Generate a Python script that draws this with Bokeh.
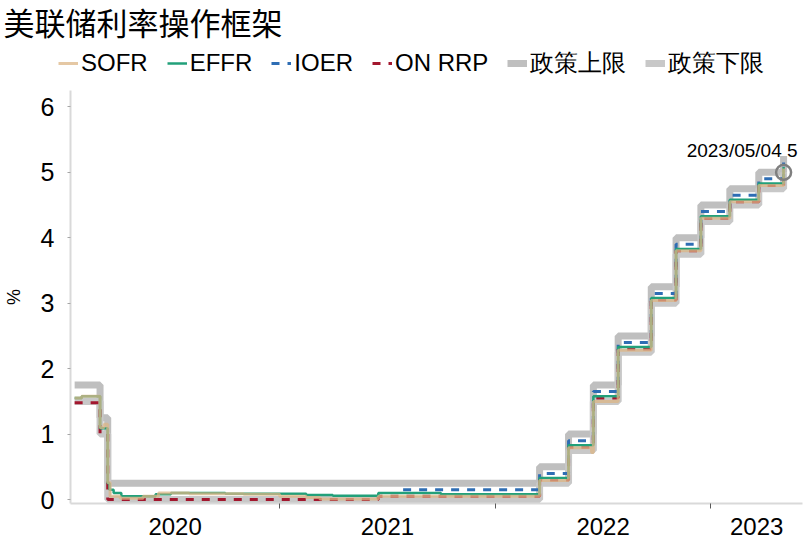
import pandas as pd
from bokeh.plotting import figure
from bokeh.layouts import column
from bokeh.models import Range1d, FixedTicker, Legend, LegendItem, Label
from bokeh.core.properties import value
from bokeh.embed import file_html
from bokeh.resources import INLINE

# ---------------- data ----------------
title_text = "美联储利率操作框架"
year_labels = ["2020", "2021", "2022", "2023"]
year_starts = ["2020-01-01", "2021-01-01", "2022-01-01", "2023-01-01", "2024-01-01"]
y_ticks = [0, 1, 2, 3, 4, 5, 6]

policy_dates = ["2020-01-20", "2020-03-03", "2020-03-16", "2022-03-17", "2022-05-05",
                "2022-06-16", "2022-07-28", "2022-09-22", "2022-11-03", "2022-12-15",
                "2023-02-02", "2023-03-23", "2023-05-04"]
policy_upper = [1.75, 1.25, 0.25, 0.50, 1.00, 1.75, 2.50, 3.25, 4.00, 4.50, 4.75, 5.00, 5.25]
policy_lower = [1.50, 1.00, 0.00, 0.25, 0.75, 1.50, 2.25, 3.00, 3.75, 4.25, 4.50, 4.75, 5.00]

ioer_dates = ["2021-07-29", "2022-03-17", "2022-05-05", "2022-06-16", "2022-07-28",
              "2022-09-22", "2022-11-03", "2022-12-15", "2023-02-02", "2023-03-23",
              "2023-05-04"]
ioer_values = [0.15, 0.40, 0.90, 1.65, 2.40, 3.15, 3.90, 4.40, 4.65, 4.90, 5.15]

onrrp_dates = ["2020-01-20", "2020-03-03", "2020-03-16", "2021-06-17", "2022-03-17",
               "2022-05-05", "2022-06-16", "2022-07-28", "2022-09-22", "2022-11-03",
               "2022-12-15", "2023-02-02", "2023-03-23", "2023-05-04"]
onrrp_values = [1.48, 1.00, 0.00, 0.05, 0.30, 0.80, 1.55, 2.30, 3.05, 3.80, 4.30, 4.55, 4.80, 5.05]

effr_dates = ["2020-01-20", "2020-02-01", "2020-03-03", "2020-03-16", "2020-03-19",
              "2020-03-26", "2020-04-08", "2020-06-05", "2020-07-01", "2020-10-01",
              "2021-02-15", "2021-04-01", "2021-06-17", "2021-10-01", "2022-03-17",
              "2022-05-05", "2022-06-16", "2022-07-28", "2022-09-22", "2022-11-03",
              "2022-12-15", "2023-02-02", "2023-03-23", "2023-05-04"]
effr_values = [1.55, 1.58, 1.09, 0.25, 0.15, 0.10, 0.05, 0.08, 0.10, 0.09,
               0.07, 0.06, 0.10, 0.08, 0.33,
               0.83, 1.58, 2.33, 3.08, 3.83,
               4.33, 4.58, 4.83, 5.08]

sofr_dates = ["2020-01-20", "2020-02-01", "2020-03-03", "2020-03-10", "2020-03-16",
              "2020-03-20", "2020-04-06", "2020-05-15", "2020-06-10", "2020-08-01",
              "2020-11-01", "2021-01-01", "2021-02-15", "2021-03-10", "2021-06-17",
              "2022-03-17", "2022-05-05", "2022-06-13", "2022-06-16", "2022-07-28",
              "2022-09-22", "2022-11-03", "2022-12-15", "2023-02-02", "2023-03-23",
              "2023-05-04"]
sofr_values = [1.55, 1.58, 1.10, 1.15, 0.26,
               0.05, 0.02, 0.05, 0.10, 0.09,
               0.08, 0.05, 0.03, 0.01, 0.05,
               0.29, 0.79, 0.72, 1.50, 2.28,
               3.04, 3.80, 4.30, 4.55, 4.80,
               5.06]

annot_date = "2023-05-04"
annot_value = 5.0
annot_label = "2023/05/04 5"

series_names = ["SOFR", "EFFR", "IOER", "ON RRP", "政策上限", "政策下限"]

# ---------------- styles ----------------
styles = {
    "SOFR": dict(line_color="#dcb585", line_width=3, line_alpha=0.75),
    "EFFR": dict(line_color="#22a07a", line_width=2.5),
    "IOER": dict(line_color="#2e6db4", line_width=3, line_dash="8 8"),
    "ON RRP": dict(line_color="#a3172e", line_width=3, line_dash="8 8"),
    "政策上限": dict(line_color="#bfbfbf", line_width=7),
    "政策下限": dict(line_color="#c8c8c8", line_width=7),
}

def ms(d):
    return int(pd.Timestamp(d).value // 10**6)

def ts(lst):
    return [ms(d) for d in lst]

W = 812
HEADER_H = 88
MAIN_H = 456

# ---------------- header: title + legend ----------------
hdr = figure(width=W, height=HEADER_H, x_range=Range1d(0, 1), y_range=Range1d(0, 1),
             x_axis_location=None, y_axis_location=None, title=None,
             output_backend="svg", toolbar_location=None,
             min_border=0, min_border_left=0, min_border_right=0,
             min_border_top=0, min_border_bottom=0)
hdr.frame_align = False
hdr.outline_line_color = None
hdr.xgrid.grid_line_color = None
hdr.ygrid.grid_line_color = None
hdr.background_fill_color = "white"
hdr.border_fill_color = "white"

hdr.add_layout(Label(x=3, y=HEADER_H - 21, x_units="screen", y_units="screen",
                     text=title_text, text_font="Noto Sans CJK SC", text_font_size="31px",
                     text_baseline="middle", text_align="left", text_color="#000000"))

nan = float("nan")
proxies = {name: hdr.line([nan], [nan], **styles[name]) for name in series_names}
legend = Legend(items=[LegendItem(label=n, renderers=[proxies[n]]) for n in series_names],
                orientation="horizontal", location=(58, 9),
                label_text_font="Liberation Sans", label_text_font_size="24px",
                label_text_color="#000000", glyph_width=20, glyph_height=24,
                label_height=24, label_standoff=3, spacing=19, padding=0, margin=0,
                border_line_color=None, background_fill_alpha=0)
hdr.add_layout(legend)

# ---------------- main chart ----------------
x_start = ms("2020-01-13")
x_end = ms("2023-06-05")

p = figure(width=W, height=MAIN_H,
           x_range=Range1d(start=x_start, end=x_end),
           y_range=Range1d(start=-0.06, end=6.25),
           output_backend="svg", toolbar_location=None, min_border=0,
           min_border_left=69, min_border_right=10, min_border_top=2, min_border_bottom=41)
p.frame_align = False
p.background_fill_color = "white"
p.border_fill_color = "white"
p.outline_line_color = None
p.xgrid.grid_line_color = None
p.ygrid.grid_line_color = None

up = p.step(ts(policy_dates), policy_upper, mode="after", **styles["政策上限"])
lo = p.step(ts(policy_dates), policy_lower, mode="after", **styles["政策下限"])
io = p.step(ts(ioer_dates), ioer_values, mode="after", **styles["IOER"])
rr = p.step(ts(onrrp_dates), onrrp_values, mode="after", **styles["ON RRP"])
ef = p.step(ts(effr_dates), effr_values, mode="after", **styles["EFFR"])
so = p.step(ts(sofr_dates), sofr_values, mode="after", **styles["SOFR"])

p.scatter(ts([annot_date]), [annot_value], marker="circle", size=15,
          fill_color=None, line_color="#7f7f7f", line_width=2.5)
p.text(ts([annot_date]), [annot_value], text=[annot_label],
       text_align="right", text_baseline="bottom", x_offset=14, y_offset=-11,
       text_font=value("Liberation Sans"), text_font_size="19px", text_color="#000000")

# x axis: labels centred in the visible part of each year, ticks at year boundaries
bounds = ts(year_starts)
mids = []
for i in range(len(year_labels)):
    a = max(x_start, bounds[i]); b = min(x_end, bounds[i + 1])
    mids.append(int((a + b) // 2))
xa = p.xaxis[0]
xa.ticker = FixedTicker(ticks=mids, minor_ticks=[b for b in bounds if x_start < b < x_end])
xa.major_label_overrides = {m: lab for m, lab in zip(mids, year_labels)}
xa.major_tick_line_color = None
xa.minor_tick_line_color = "#595959"
xa.minor_tick_out = 5
xa.minor_tick_in = 0
xa.axis_line_color = "#d9d9d9"
xa.axis_line_width = 2
xa.major_label_text_font = "Liberation Sans"
xa.major_label_text_font_size = "24px"
xa.major_label_text_color = "#000000"
xa.major_label_standoff = 8

ya = p.yaxis[0]
ya.ticker = FixedTicker(ticks=y_ticks, minor_ticks=[])
ya.major_tick_line_color = "#a6a6a6"
ya.major_tick_out = 3
ya.major_tick_in = 0
ya.axis_line_color = "#d9d9d9"
ya.axis_line_width = 2
ya.major_label_text_font = "Liberation Sans"
ya.major_label_text_font_size = "25px"
ya.major_label_text_color = "#000000"
ya.major_label_standoff = 13
ya.axis_label = "%"
ya.axis_label_text_font = "Liberation Sans"
ya.axis_label_text_font_size = "18px"
ya.axis_label_text_font_style = "normal"
ya.axis_label_text_color = "#000000"
ya.axis_label_standoff = 14

layout = column(hdr, p, spacing=0)
open("out.html", "w").write(file_html(layout, INLINE))
